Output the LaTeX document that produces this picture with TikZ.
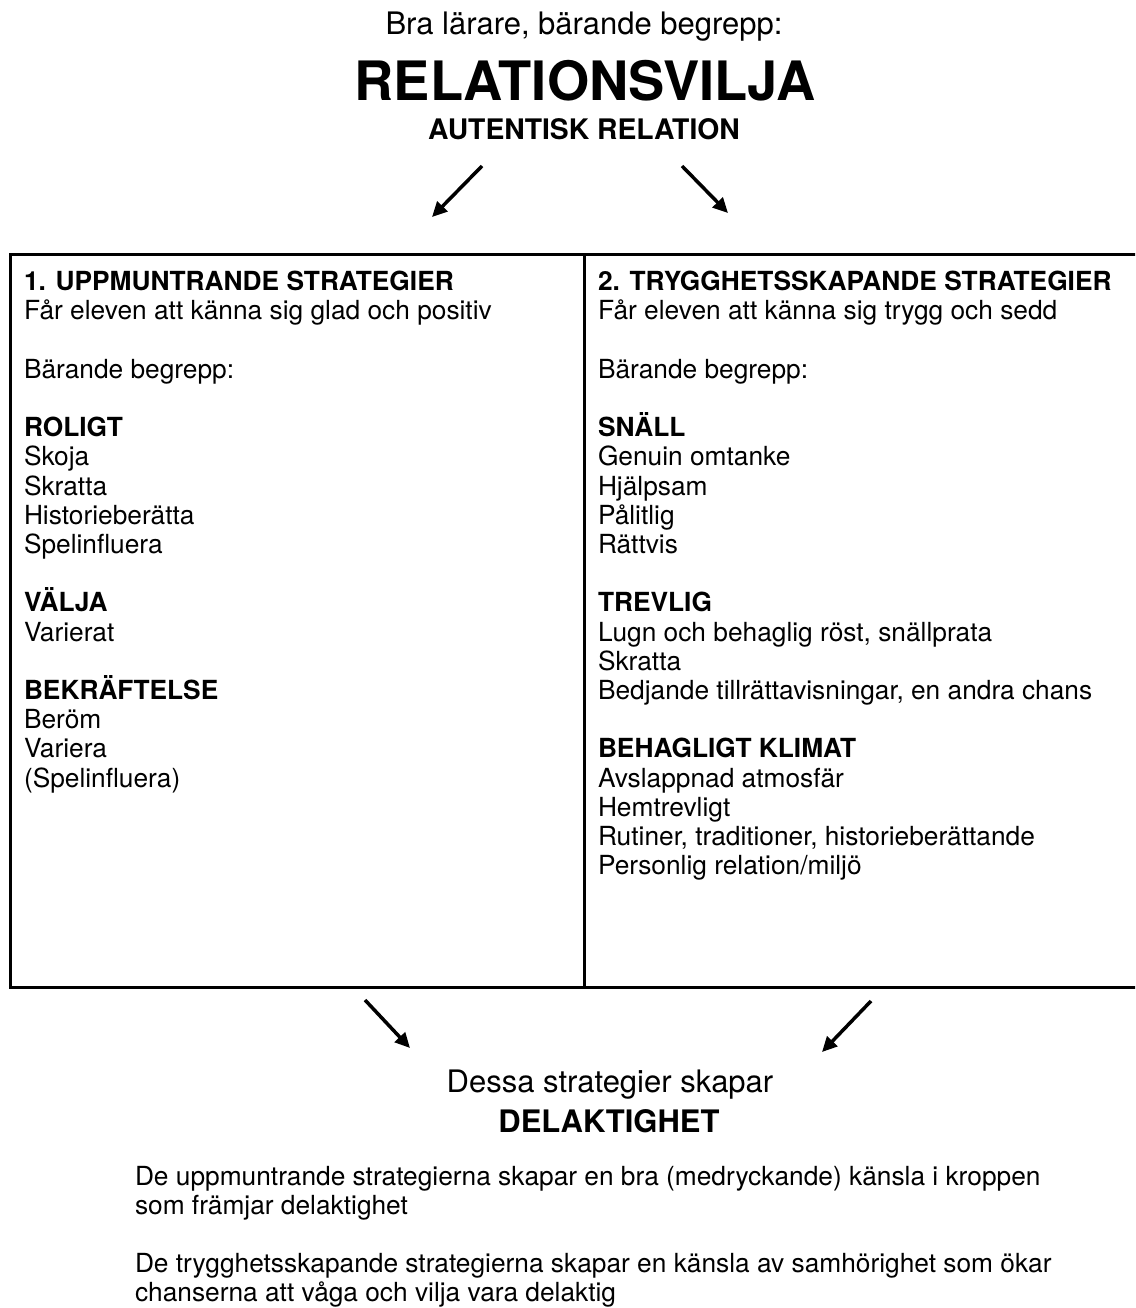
\documentclass[tikz,border=0pt]{standalone}
\usepackage{fontspec}
\setmainfont{TeX Gyre Heros}
\usetikzlibrary{arrows.meta, positioning}
\newcommand\tightlines{\lineskiplimit=-100pt\relax}

\begin{document}
\begin{tikzpicture}[
    x=1pt, y=-1pt,
    >={Triangle[length=15pt,width=14pt]},
    every node/.style={inner sep=0pt, outer sep=0pt},
    headtext/.style={anchor=base, font=\fontsize{31}{36}\selectfont},
    bigtitle/.style={anchor=base, font=\fontsize{54.3}{60}\selectfont\bfseries},
    subtitle/.style={anchor=base, font=\fontsize{28.3}{33}\selectfont\bfseries},
    coltext/.style={anchor=north west, align=left,
        font=\fontsize{26.3}{29.2}\selectfont\tightlines},
    arrow/.style={->, line width=3.5pt},
    frame/.style={line width=3pt},
]
\useasboundingbox (0,0) rectangle (1135,1308);
\clip (0,0) rectangle (1135,1308);

% === TITLE ===
\node[headtext] (intro) at (584,35) {Bra lärare, bärande begrepp:};
\node[bigtitle] (relvilja) at (585,101) {RELATIONSVILJA};
\node[subtitle] (autentisk) at (584,140) {AUTENTISK RELATION};

% Arrows down into the two columns
\coordinate (topLa) at (482,166);
\coordinate (topLb) at (432,217);
\coordinate (topRa) at (682,166);
\coordinate (topRb) at (728,213);
\draw[arrow] (topLa) -- (topLb);
\draw[arrow] (topRa) -- (topRb);

% === TABLE ===
\coordinate (boxNW) at (10,254);
\coordinate (boxSE) at (1150,987);
\draw[frame] (boxNW) rectangle (boxSE);
\draw[frame] (584,254) -- (584,987);

% Column 1
\node[coltext] (uppmuntrande) at (24,271.3) {%
    \textbf{1. UPPMUNTRANDE STRATEGIER}\\
    Får eleven att känna sig glad och positiv\\[29.2pt]
    Bärande begrepp:\\[29.2pt]
    \textbf{ROLIGT}\\
    Skoja\\
    Skratta\\
    Historieberätta\\
    Spelinfluera\\[29.2pt]
    \textbf{VÄLJA}\\
    Varierat\\[29.2pt]
    \textbf{BEKRÄFTELSE}\\
    Beröm\\
    Variera\\
    (Spelinfluera)};

% Column 2
\node[coltext] (trygghet) at (598,271.3) {%
    \textbf{2. TRYGGHETSSKAPANDE STRATEGIER}\\
    Får eleven att känna sig trygg och sedd\\[29.2pt]
    Bärande begrepp:\\[29.2pt]
    \textbf{SNÄLL}\\
    Genuin omtanke\\
    Hjälpsam\\
    Pålitlig\\
    Rättvis\\[29.2pt]
    \textbf{TREVLIG}\\
    Lugn och behaglig röst, snällprata\\
    Skratta\\
    Bedjande tillrättavisningar, en andra chans\\[29.2pt]
    \textbf{BEHAGLIGT KLIMAT}\\
    Avslappnad atmosfär\\
    Hemtrevligt\\
    Rutiner, traditioner, historieberättande\\
    Personlig relation/miljö};

% Arrows towards the result
\coordinate (botLa) at (365,1000);
\coordinate (botLb) at (410,1048);
\coordinate (botRa) at (871,1001);
\coordinate (botRb) at (822,1052);
\draw[arrow] (botLa) -- (botLb);
\draw[arrow] (botRa) -- (botRb);

% === RESULT ===
\node[headtext] (skapar) at (610,1092) {Dessa strategier skapar};
\node[headtext, font=\fontsize{31}{36}\selectfont\bfseries] (delaktighet) at (609,1132) {DELAKTIGHET};

\node[coltext] (summary) at (135,1166) {%
    De uppmuntrande strategierna skapar en bra (medryckande) känsla i kroppen\\
    som främjar delaktighet\\[29.2pt]
    De trygghetsskapande strategierna skapar en känsla av samhörighet som ökar\\
    chanserna att våga och vilja vara delaktig};

\end{tikzpicture}
\end{document}
